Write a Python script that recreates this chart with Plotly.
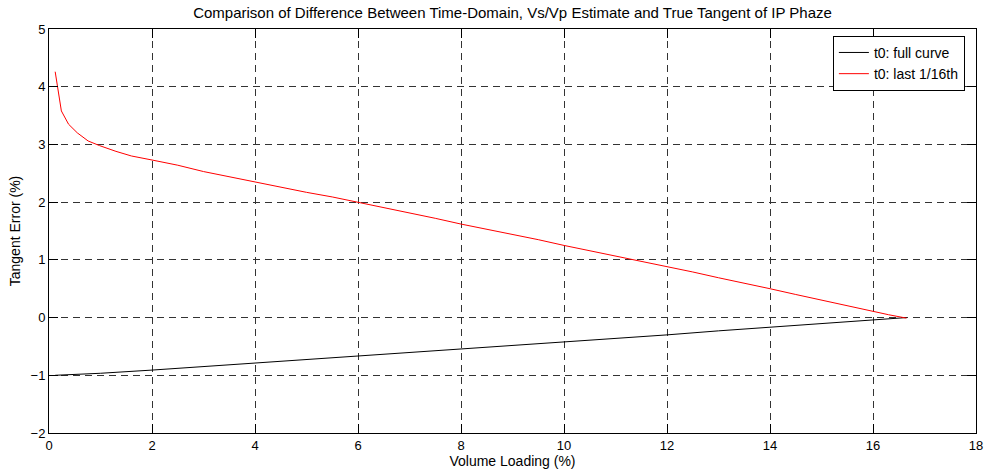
import plotly.graph_objects as go

# Data
red_x = [0.12, 0.24, 0.38, 0.55, 0.76, 0.98, 1.3, 1.6, 2.0, 2.5, 3.0, 3.5, 4.0, 4.5, 5.0, 5.5, 6.0,
         6.5, 7.0, 7.5, 8.0, 8.5, 9.0, 9.5, 10.0, 10.5, 11.0, 11.5, 12.0, 12.5, 13.0, 13.5, 14.0,
         14.5, 15.0, 15.5, 16.0, 16.3, 16.65]
red_y = [4.26, 3.58, 3.35, 3.2, 3.06, 2.98, 2.88, 2.8, 2.73, 2.64, 2.53, 2.44, 2.34, 2.26, 2.17, 2.09, 2.0,
         1.91, 1.82, 1.72, 1.62, 1.53, 1.45, 1.35, 1.25, 1.16, 1.07, 0.98, 0.88, 0.79, 0.69, 0.60, 0.50,
         0.40, 0.30, 0.20, 0.10, 0.05, -0.01]

black_x = [0.12, 0.5, 1.0, 2.0, 3.0, 4.0, 5.0, 6.0, 7.0, 8.0, 9.0, 10.0, 11.0, 12.0, 13.0, 14.0,
           15.0, 16.0, 16.65]
black_y = [-1.0, -0.99, -0.965, -0.91, -0.85, -0.79, -0.73, -0.67, -0.61, -0.55, -0.49, -0.42,
           -0.36, -0.30, -0.23, -0.165, -0.10, -0.035, 0.0]

x_ticks = [0, 2, 4, 6, 8, 10, 12, 14, 16, 18]
y_ticks = [-2, -1, 0, 1, 2, 3, 4, 5]

fig = go.Figure()
fig.add_trace(go.Scatter(x=black_x, y=black_y, mode="lines", name="t0: full curve",
                         line=dict(color="black", width=1)))
fig.add_trace(go.Scatter(x=red_x, y=red_y, mode="lines", name="t0: last 1/16th",
                         line=dict(color="red", width=1)))

axis_common = dict(
    showline=True, linecolor="black", linewidth=1, mirror="ticks",
    ticks="inside", ticklen=9, tickcolor="black", tickwidth=1,
    showgrid=True, gridcolor="#333333", gridwidth=1, griddash="7px,5px",
    zeroline=False, tickfont=dict(size=13, color="black"),
)

fig.update_layout(
    width=992, height=476,
    margin=dict(l=49, r=9, t=29, b=43),
    paper_bgcolor="white", plot_bgcolor="white",
    font=dict(family="Liberation Sans, Arial, sans-serif", size=13, color="black"),
    title=dict(text="Comparison of Difference Between Time-Domain, Vs/Vp Estimate and True Tangent of IP Phaze",
               x=0.5, xref="paper", xanchor="center", y=1 - 13 / 476, yref="container",
               yanchor="middle", font=dict(size=15)),
    xaxis=dict(range=[0, 18], tickvals=x_ticks,
               title=dict(text="Volume Loading (%)", standoff=3,
                          font=dict(size=14, family="Liberation Sans, Arial, sans-serif")),
               **axis_common),
    yaxis=dict(range=[-2, 5], tickvals=y_ticks,
               title=dict(text="Tangent Error (%)", standoff=6,
                          font=dict(size=14, family="Liberation Sans, Arial, sans-serif")),
               **axis_common),
    legend=dict(x=0.988, y=0.983, xanchor="right", yanchor="top",
                bordercolor="black", borderwidth=1, bgcolor="white",
                font=dict(size=14), tracegroupgap=0, itemwidth=30),
    showlegend=True,
)

fig.write_html("out.html", config={"displayModeBar": False},
               post_script="document.body.style.margin='0';document.body.style.overflow='hidden';")
